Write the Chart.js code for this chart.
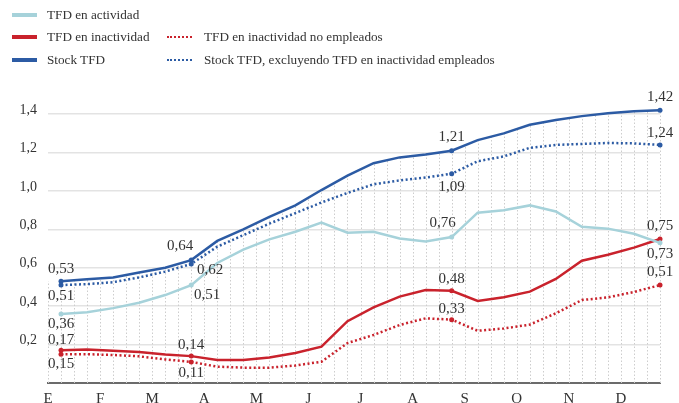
<!DOCTYPE html>
<html lang="es">
<head>
    <meta charset="UTF-8">
    <title>TFD</title>
    <script src="https://cdn.jsdelivr.net/npm/chart.js"></script>
    <style>
        body {
            margin: 0;
            background: #fff;
            font-family: "Liberation Serif", serif;
            color: #333;
        }
        .wrap {
            position: relative;
            width: 679px;
            height: 403px;
        }
        .lg {
            position: absolute;
            height: 18px;
            line-height: 18px;
            font-size: 13.2px;
            display: flex;
            align-items: center;
            white-space: nowrap;
        }
        .sw {
            display: inline-block;
            width: 25px;
            margin-right: 10px;
        }
        .solid { height: 4px; }
        .dot { height: 0; border-top: 2px dotted; margin-right: 12px; }
    </style>
</head>
<body>
    <div class="wrap">
        <canvas id="tfdChart"></canvas>
        <div class="lg" style="left:12px;top:6px"><span class="sw solid" style="background:#a6d2da"></span>TFD en actividad</div>
        <div class="lg" style="left:12px;top:28px"><span class="sw solid" style="background:#c9222c"></span>TFD en inactividad</div>
        <div class="lg" style="left:12px;top:51px"><span class="sw solid" style="background:#2c5ba4"></span>Stock TFD</div>
        <div class="lg" style="left:167px;top:28px"><span class="sw dot" style="border-color:#c9222c"></span>TFD en inactividad no empleados</div>
        <div class="lg" style="left:167px;top:51px"><span class="sw dot" style="border-color:#2c5ba4"></span>Stock TFD, excluyendo TFD en inactividad empleados</div>
    </div>

    <script>
        // months on the axis, one label every 4 slots
        const months = ['E', 'F', 'M', 'A', 'M', 'J', 'J', 'A', 'S', 'O', 'N', 'D'];
        // half-month observations, positions on a 48-slot year
        const slots = [1, 3, 5, 7, 9, 11, 13, 15, 17, 19, 21, 23, 25, 27, 29, 31, 33, 35, 37, 39, 41, 43, 45, 47];

        const stockTFD = [0.53, 0.54, 0.55, 0.575, 0.60, 0.64, 0.74, 0.80, 0.865, 0.925, 1.005, 1.08,
                          1.145, 1.175, 1.19, 1.21, 1.265, 1.30, 1.345, 1.37, 1.39, 1.405, 1.415, 1.42];
        const stockExcl = [0.51, 0.515, 0.525, 0.55, 0.58, 0.62, 0.71, 0.77, 0.83, 0.885, 0.94, 0.99,
                           1.035, 1.055, 1.07, 1.09, 1.155, 1.18, 1.225, 1.24, 1.245, 1.25, 1.248, 1.24];
        const enActividad = [0.36, 0.368, 0.39, 0.418, 0.458, 0.51, 0.625, 0.695, 0.748, 0.788, 0.835, 0.783,
                             0.788, 0.753, 0.737, 0.76, 0.887, 0.90, 0.925, 0.893, 0.814, 0.804, 0.777, 0.73];
        const enInactividad = [0.17, 0.175, 0.168, 0.162, 0.149, 0.14, 0.12, 0.12, 0.133, 0.156, 0.189, 0.322,
                               0.394, 0.45, 0.484, 0.48, 0.427, 0.447, 0.476, 0.542, 0.637, 0.668, 0.705, 0.75];
        const noEmpleados = [0.15, 0.15, 0.146, 0.139, 0.123, 0.11, 0.085, 0.08, 0.08, 0.091, 0.111, 0.208,
                             0.25, 0.302, 0.337, 0.33, 0.272, 0.284, 0.304, 0.363, 0.432, 0.446, 0.474, 0.51];

        const toPoints = arr => arr.map((v, i) => ({ x: slots[i], y: v }));
        const fmt = v => v.toFixed(2).replace('.', ',');
        const serif = '"Liberation Serif", serif';

        function stockAt(i) {
            if (i <= slots[0]) return stockTFD[0];
            for (let j = 0; j < slots.length - 1; j++) {
                if (i >= slots[j] && i <= slots[j + 1]) {
                    const t = (i - slots[j]) / (slots[j + 1] - slots[j]);
                    return stockTFD[j] + t * (stockTFD[j + 1] - stockTFD[j]);
                }
            }
            return stockTFD[stockTFD.length - 1];
        }

        // dotted drop lines from the axis up to the stock line
        const dropLines = {
            id: 'dropLines',
            beforeDatasetsDraw(chart) {
                const { ctx, chartArea, scales } = chart;
                ctx.save();
                ctx.strokeStyle = '#cdcdcd';
                ctx.lineWidth = 1;
                ctx.setLineDash([1.5, 2]);
                for (let i = 0; i <= 47; i++) {
                    const px = Math.round(scales.x.getPixelForValue(i)) + 0.5;
                    ctx.beginPath();
                    ctx.moveTo(px, chartArea.bottom);
                    ctx.lineTo(px, scales.y.getPixelForValue(stockAt(i)));
                    ctx.stroke();
                }
                ctx.restore();
            }
        };

        const valueLabels = {
            id: 'valueLabels',
            afterDatasetsDraw(chart) {
                const { ctx } = chart;
                ctx.save();
                ctx.font = '15px ' + serif;
                ctx.fillStyle = '#333';
                ctx.textAlign = 'center';
                ctx.textBaseline = 'middle';
                chart.data.datasets.forEach((ds, di) => {
                    const meta = chart.getDatasetMeta(di);
                    Object.entries(ds.labelOffsets).forEach(([idx, off]) => {
                        const el = meta.data[idx];
                        ctx.fillText(fmt(ds.data[idx].y), el.x + off[0], el.y + off[1]);
                    });
                });
                ctx.restore();
            }
        };

        function series(label, arr, color, dotted, offsets) {
            return {
                label: label,
                data: toPoints(arr),
                borderColor: color,
                backgroundColor: color,
                borderWidth: 2.5,
                borderDash: dotted ? [2, 2.5] : [],
                pointRadius: c => (offsets[c.dataIndex] ? 2.5 : 0),
                pointBorderWidth: 0,
                tension: 0,
                clip: false,
                labelOffsets: offsets
            };
        }

        const ctx = document.getElementById('tfdChart').getContext('2d');
        const tfdChart = new Chart(ctx, {
            type: 'line',
            data: {
                datasets: [
                    series('TFD en actividad', enActividad, '#a6d2da', false,
                        { 0: [0, 10], 5: [16, 10], 15: [-9, -14], 23: [0, 11] }),
                    series('TFD en inactividad no empleados', noEmpleados, '#c9222c', true,
                        { 0: [0, 10], 5: [0, 11], 15: [0, -11], 23: [0, -13] }),
                    series('TFD en inactividad', enInactividad, '#c9222c', false,
                        { 0: [0, -10], 5: [0, -11], 15: [0, -12], 23: [0, -13] }),
                    series('Stock TFD, excluyendo TFD en inactividad empleados', stockExcl, '#2c5ba4', true,
                        { 0: [0, 11], 5: [19, 6], 15: [0, 13], 23: [0, -12] }),
                    series('Stock TFD', stockTFD, '#2c5ba4', false,
                        { 0: [0, -12], 5: [-11, -14], 15: [0, -14], 23: [0, -13] })
                ]
            },
            options: {
                animation: false,
                responsive: true,
                maintainAspectRatio: false,
                layout: { padding: { top: 95, right: 19 } },
                plugins: {
                    legend: { display: false },
                    tooltip: { enabled: false }
                },
                scales: {
                    x: {
                        type: 'linear',
                        min: 0,
                        max: 47,
                        afterFit: s => { s.height = 20; },
                        grid: { display: false, drawTicks: false },
                        border: { color: '#6b6b6b', width: 2 },
                        ticks: {
                            stepSize: 1,
                            autoSkip: false,
                            maxRotation: 0,
                            padding: 7,
                            color: '#333',
                            font: { family: serif, size: 15 },
                            callback: v => (v % 4 === 0 ? months[v / 4] : '')
                        }
                    },
                    y: {
                        min: 0,
                        max: 1.5,
                        afterFit: s => { s.width = 48; },
                        grid: { color: '#e3e3e3', lineWidth: 1.5, drawTicks: false },
                        border: { display: false },
                        ticks: {
                            stepSize: 0.1,
                            padding: 11,
                            labelOffset: -4,
                            color: '#333',
                            font: { family: serif, size: 14 },
                            callback: v => {
                                const k = Math.round(v * 10);
                                return (k > 0 && k < 15 && k % 2 === 0) ? (k / 10).toFixed(1).replace('.', ',') : '';
                            }
                        }
                    }
                }
            },
            plugins: [dropLines, valueLabels]
        });
    </script>
</body>
</html>
